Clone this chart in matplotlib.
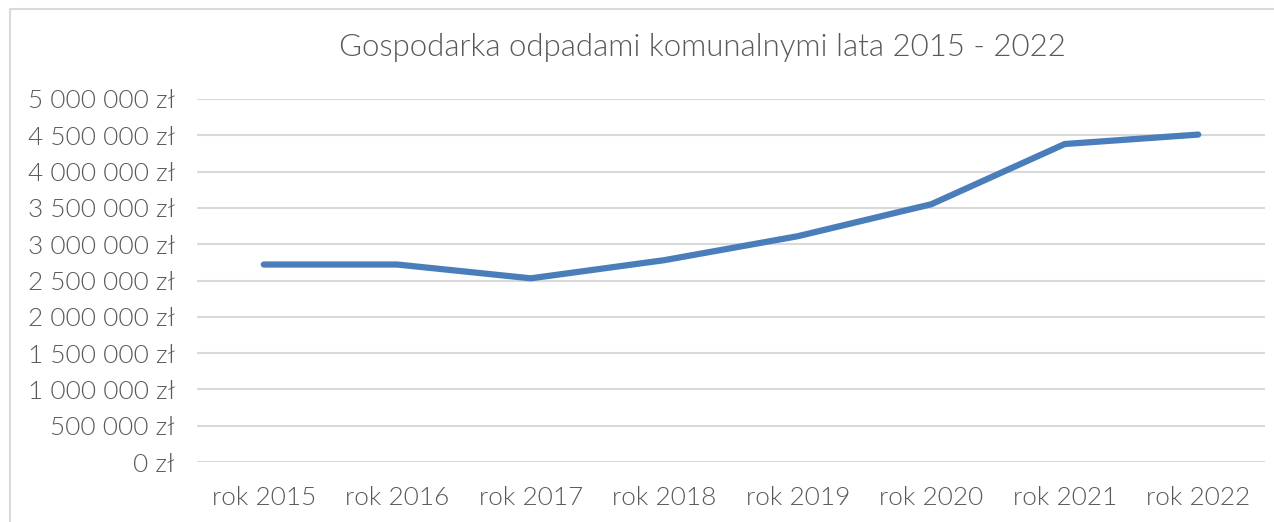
import matplotlib
matplotlib.use("Agg")
import matplotlib.pyplot as plt
from matplotlib.patches import Rectangle
from matplotlib.ticker import FuncFormatter

# koszty gospodarki odpadami komunalnymi w kolejnych latach
lata = ["rok 2015", "rok 2016", "rok 2017", "rok 2018",
        "rok 2019", "rok 2020", "rok 2021", "rok 2022"]
koszty = [2720000, 2720000, 2530000, 2780000,
          3110000, 3550000, 4380000, 4510000]

plt.rcParams['font.family'] = ['Lato', 'DejaVu Sans']
WAGA = 300

W, H = 1274, 522
fig = plt.figure(figsize=(W / 100, H / 100), dpi=100)

# ramka wykresu
fig.patches.append(Rectangle((10 / W, -0.1), 1.2, 1 - 9 / H + 0.1,
                             transform=fig.transFigure, fill=False,
                             edgecolor="#d9d9d9", linewidth=1.5))

ax = fig.add_axes([197 / W, 1 - 462 / H, (1265 - 197) / W, (462 - 99) / H])

x = list(range(len(lata)))
ax.plot(x, koszty, color="#4a7ebb", linewidth=4.5, solid_capstyle="round",
        solid_joinstyle="round", zorder=3)

ax.set_xlim(-0.5, len(lata) - 0.5)
ax.set_ylim(0, 5000000)
ax.set_yticks(range(0, 5000001, 500000))
ax.yaxis.set_major_formatter(FuncFormatter(
    lambda v, p: f"{int(v):,}".replace(",", " ") + " zł"))
ax.set_xticks(x)
ax.set_xticklabels(lata)

ax.grid(axis="y", color="#d9d9d9", linewidth=1.5)
ax.set_axisbelow(True)
for s in ax.spines.values():
    s.set_visible(False)
ax.tick_params(length=0, labelsize=18.8, colors="#595959", pad=17)
ax.tick_params(axis="y", pad=16)
for t in ax.get_xticklabels() + ax.get_yticklabels():
    t.set_fontweight(WAGA)

fig.text(702 / W, 1 - 48 / H, "Gospodarka odpadami komunalnymi lata 2015 - 2022",
         ha="center", va="center", fontsize=22.5, color="#595959",
         fontweight=WAGA)

fig.savefig("out.png", dpi=100)
